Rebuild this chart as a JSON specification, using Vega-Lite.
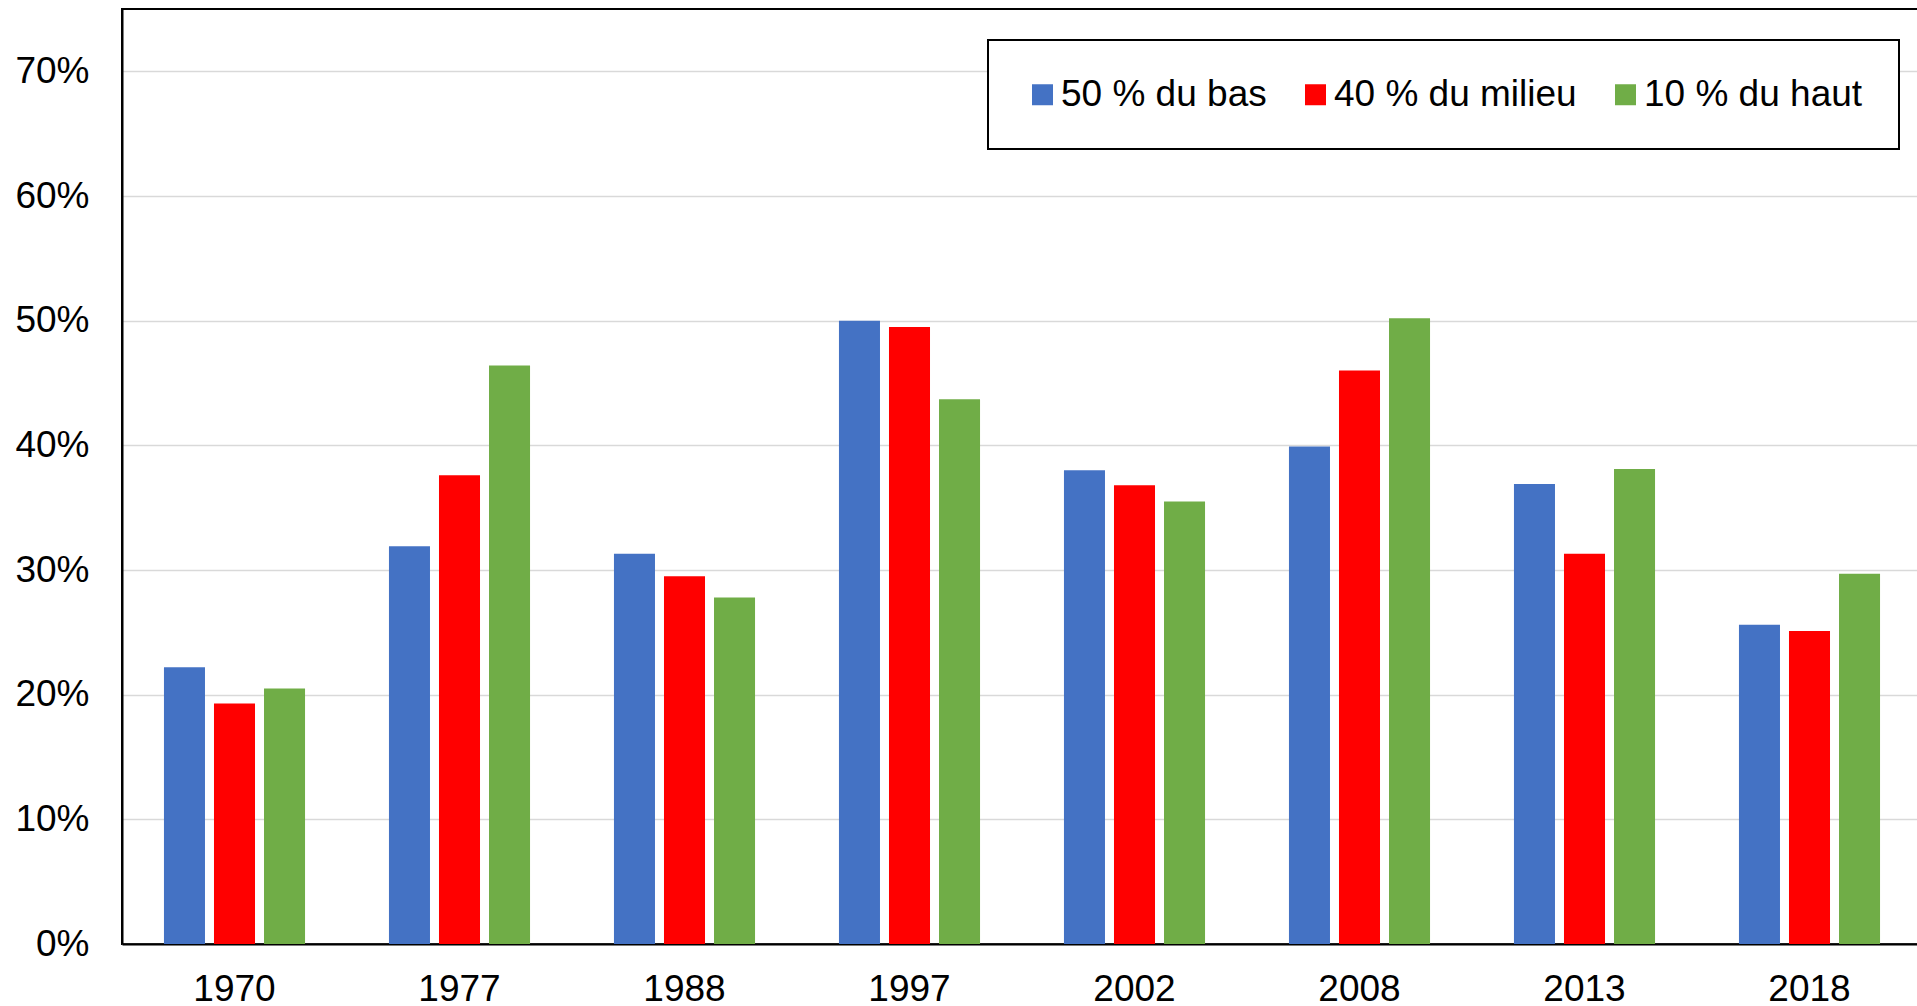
{
  "$schema": "https://vega.github.io/schema/vega-lite/v6.json",
  "width": 1800,
  "height": 935,
  "padding": {"left": 14, "top": 9, "right": 0, "bottom": 0},
  "background": "white",
  "config": {
    "font": "Liberation Sans",
    "view": {"stroke": "black", "strokeWidth": 2},
    "axis": {"labelFont": "Liberation Sans", "labelFontSize": 37, "labelColor": "black"}
  },
  "data": {
    "values": [
      {"year": "1970", "group": "50 % du bas", "share": 22.2},
      {"year": "1970", "group": "40 % du milieu", "share": 19.3},
      {"year": "1970", "group": "10 % du haut", "share": 20.5},
      {"year": "1977", "group": "50 % du bas", "share": 31.9},
      {"year": "1977", "group": "40 % du milieu", "share": 37.6},
      {"year": "1977", "group": "10 % du haut", "share": 46.4},
      {"year": "1988", "group": "50 % du bas", "share": 31.3},
      {"year": "1988", "group": "40 % du milieu", "share": 29.5},
      {"year": "1988", "group": "10 % du haut", "share": 27.8},
      {"year": "1997", "group": "50 % du bas", "share": 50.0},
      {"year": "1997", "group": "40 % du milieu", "share": 49.5},
      {"year": "1997", "group": "10 % du haut", "share": 43.7},
      {"year": "2002", "group": "50 % du bas", "share": 38.0},
      {"year": "2002", "group": "40 % du milieu", "share": 36.8},
      {"year": "2002", "group": "10 % du haut", "share": 35.5},
      {"year": "2008", "group": "50 % du bas", "share": 39.9},
      {"year": "2008", "group": "40 % du milieu", "share": 46.0},
      {"year": "2008", "group": "10 % du haut", "share": 50.2},
      {"year": "2013", "group": "50 % du bas", "share": 36.9},
      {"year": "2013", "group": "40 % du milieu", "share": 31.3},
      {"year": "2013", "group": "10 % du haut", "share": 38.1},
      {"year": "2018", "group": "50 % du bas", "share": 25.6},
      {"year": "2018", "group": "40 % du milieu", "share": 25.1},
      {"year": "2018", "group": "10 % du haut", "share": 29.7}
    ]
  },
  "mark": {"type": "bar"},
  "encoding": {
    "x": {
      "field": "year",
      "type": "nominal",
      "sort": null,
      "title": null,
      "scale": {"paddingInner": 0.333, "paddingOuter": 0.1665},
      "axis": {
        "labelAngle": 0,
        "ticks": false,
        "labelPadding": 27,
        "domainColor": "black",
        "domainWidth": 2,
        "grid": false
      }
    },
    "xOffset": {
      "field": "group",
      "type": "nominal",
      "sort": ["50 % du bas", "40 % du milieu", "10 % du haut"],
      "scale": {"paddingInner": 0.18, "paddingOuter": 0.09}
    },
    "y": {
      "field": "share",
      "type": "quantitative",
      "title": null,
      "scale": {"domain": [0, 75], "nice": false},
      "axis": {
        "values": [0, 10, 20, 30, 40, 50, 60, 70],
        "labelExpr": "datum.value + '%'",
        "ticks": false,
        "labelPadding": 33,
        "domainColor": "black",
        "domainWidth": 2,
        "gridColor": "#d9d9d9",
        "gridWidth": 1.5
      }
    },
    "color": {
      "field": "group",
      "type": "nominal",
      "sort": ["50 % du bas", "40 % du milieu", "10 % du haut"],
      "scale": {
        "domain": ["50 % du bas", "40 % du milieu", "10 % du haut"],
        "range": ["#4472C4", "#FF0000", "#70AD47"]
      },
      "legend": {
        "title": null,
        "orient": "none",
        "legendX": 866,
        "legendY": 31,
        "direction": "horizontal",
        "symbolType": "square",
        "symbolSize": 441,
        "symbolStrokeWidth": 0,
        "labelFontSize": 37,
        "labelFont": "Liberation Sans",
        "labelColor": "black",
        "labelLimit": 400,
        "labelOffset": 0,
        "columnPadding": 30,
        "padding": 36,
        "strokeColor": "black",
        "fillColor": "white",
        "encode": {"legend": {"update": {"strokeWidth": {"value": 2}}}}
      }
    }
  }
}
